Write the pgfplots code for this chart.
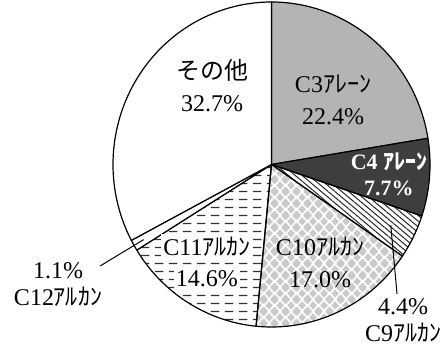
\documentclass[border=0pt]{standalone}
\usepackage{fontspec}
\setmainfont{Liberation Serif}
\newfontfamily\jp{Noto Sans CJK JP}
\usepackage{pgfplots}
\pgfplotsset{compat=1.18}
\usepackage{pgfplotstable}
\usetikzlibrary{patterns,patterns.meta}

\definecolor{arenegray}{RGB}{180,180,181}
\definecolor{arenedark}{RGB}{62,62,62}
\definecolor{diamondgray}{RGB}{202,202,204}
\definecolor{dashgray}{RGB}{50,50,50}

% horizontal dashes in aligned rows
\pgfdeclarepatternformonly{hdashes}{\pgfqpoint{0pt}{0pt}}{\pgfqpoint{7pt}{4pt}}{\pgfqpoint{7pt}{4pt}}{%
  \pgfsetlinewidth{0.7pt}%
  \pgfpathmoveto{\pgfqpoint{0.5pt}{2pt}}\pgfpathlineto{\pgfqpoint{5pt}{2pt}}\pgfusepath{stroke}}

% staggered diamonds
\newcommand\diamondat[2]{%
  \pgfpathmoveto{\pgfpoint{#1pt-2.05pt}{#2pt}}%
  \pgfpathlineto{\pgfpoint{#1pt}{#2pt+2.25pt}}%
  \pgfpathlineto{\pgfpoint{#1pt+2.05pt}{#2pt}}%
  \pgfpathlineto{\pgfpoint{#1pt}{#2pt-2.25pt}}%
  \pgfpathclose}
\pgfdeclarepatternformonly{diamondgrid}{\pgfqpoint{0pt}{0pt}}{\pgfqpoint{5.5pt}{6pt}}{\pgfqpoint{5.5pt}{6pt}}{%
  \diamondat{2.75}{3}\diamondat{0}{0}\diamondat{5.5}{0}\diamondat{0}{6}\diamondat{5.5}{6}%
  \pgfusepath{fill}}

% share of each component (%)
\pgfplotstableread{
name  pct
C3    22.4
C4    7.7
C9    4.4
C10   17.0
C11   14.6
C12   1.1
other 32.7
}\piedata

% total, then start / end / middle angle of every slice (clockwise from the top)
\gdef\pietotal{0}
\foreach \i in {0,...,6}{%
  \pgfplotstablegetelem{\i}{pct}\of\piedata
  \pgfmathsetmacro\tmp{\pietotal+\pgfplotsretval}%
  \global\let\pietotal\tmp}
\gdef\piecum{0}
\foreach \i/\k in {0/a,1/b,2/c,3/d,4/e,5/f,6/g}{%
  \pgfplotstablegetelem{\i}{pct}\of\piedata
  \pgfmathsetmacro\st{90-(\piecum/\pietotal)*360}%
  \pgfmathsetmacro\newcum{\piecum+\pgfplotsretval}%
  \pgfmathsetmacro\en{90-(\newcum/\pietotal)*360}%
  \pgfmathsetmacro\md{(\st+\en)/2}%
  \expandafter\xdef\csname pieS\k\endcsname{\st}%
  \expandafter\xdef\csname pieE\k\endcsname{\en}%
  \expandafter\xdef\csname pieM\k\endcsname{\md}%
  \global\let\piecum\newcum}

\newcommand\pieslice[2]{%
  \edef\doslice{\noexpand\addplot[#2,domain={\csname pieE#1\endcsname:\csname pieS#1\endcsname},samples=120]
    ({cos(x)},{sin(x)}) -- (axis cs:0,0) -- cycle;}%
  \doslice}

\tikzset{
  slice/.style={draw=black,line width=0.6pt,line join=round},
  slice c3/.style={slice,fill=arenegray},
  slice c4/.style={slice,fill=arenedark},
  slice c9/.style={slice,fill=white,pattern={Lines[angle=-40,distance=2.2pt,line width=0.5pt]},pattern color=black!85},
  slice c10/.style={slice,pattern=diamondgrid,pattern color=diamondgray},
  slice c11/.style={slice,pattern=hdashes,pattern color=dashgray},
  slice c12/.style={slice,fill=white},
  slice other/.style={slice,fill=white},
  lbl/.style={align=center,inner sep=0pt,font=\fontsize{12}{16}\selectfont},
  outlbl/.style={align=center,inner sep=0pt,font=\fontsize{12}{13.5}\selectfont},
  boxed/.style={lbl,fill=white,inner xsep=1pt,inner ysep=1.5pt},
  leader/.style={draw=black,line width=0.5pt},
}

\begin{document}
\begin{tikzpicture}
\begin{axis}[
  scale only axis,
  width=222pt, height=173.5pt,
  xmin=-1.7129, xmax=1.0883,
  ymin=-1.1231, ymax=1.0123,
  hide axis, clip=false,
]
\pieslice{a}{slice c3}
\pieslice{b}{slice c4}
\pieslice{c}{slice c9}
\pieslice{d}{slice c10}
\pieslice{e}{slice c11}
\pieslice{f}{slice c12}
\pieslice{g}{slice other}

% labels inside the slices
\node[lbl] at (axis cs:0.388,0.397) {C3{\jp ｱﾚｰﾝ}\\22.4\%};
\node[lbl,text=white,font=\fontsize{11}{13}\selectfont\bfseries]
  at (axis cs:0.741,-0.058) {C4 {\jp ｱﾚｰﾝ}\\7.7\%};
\node[lbl] at (axis cs:0.306,-0.601) {C10{\jp ｱﾙｶﾝ}\\17.0\%};
\node[boxed] at (axis cs:-0.407,-0.508) {C11{\jp ｱﾙｶﾝ}};
\node[boxed] at (axis cs:-0.407,-0.705) {14.6\%};
\node[lbl] at (axis cs:-0.375,0.484) {{\jp その他}\\32.7\%};

% small slices: labels outside with leader lines
\draw[leader] (axis cs:{0.84*cos(\pieMc)},{0.84*sin(\pieMc)}) -- (axis cs:0.792,-0.797);
\node[outlbl] at (axis cs:0.83,-0.962) {4.4\%\\C9{\jp ｱﾙｶﾝ}};
\draw[leader] (axis cs:{0.93*cos(\pieMf)},{0.93*sin(\pieMf)}) -- (axis cs:-1.082,-0.625);
\node[outlbl] at (axis cs:-1.347,-0.74) {1.1\%\\C12{\jp ｱﾙｶﾝ}};
\end{axis}
\pgfresetboundingbox
\useasboundingbox (current axis.south west) rectangle (current axis.north east);
\end{tikzpicture}
\end{document}
